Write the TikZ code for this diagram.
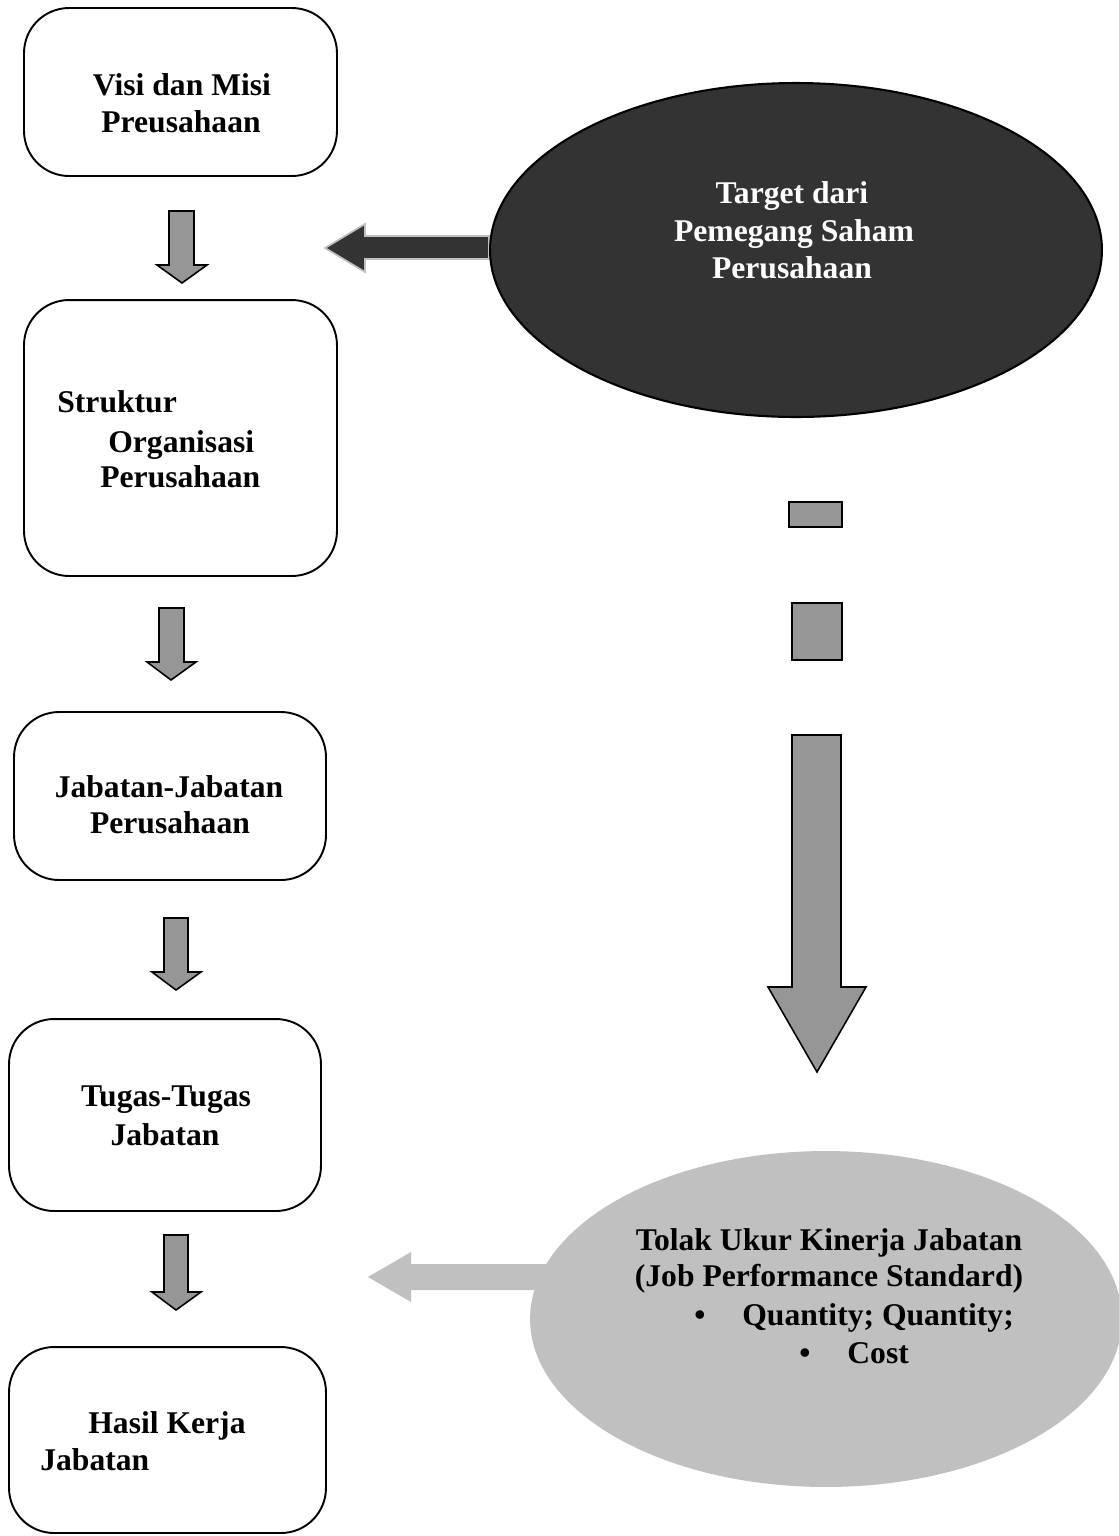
\documentclass[tikz,border=0pt]{standalone}
\usepackage{fontspec}
\setmainfont{Liberation Serif}
\usetikzlibrary{shapes.geometric}
\definecolor{midgray}{HTML}{969696}
\definecolor{lightgray}{HTML}{C0C0C0}
\definecolor{darkfill}{HTML}{333333}
\tikzset{
  box/.style={draw=black, line width=1.1pt, rounded corners=0.9cm, inner sep=0pt, minimum width=6.26cm},
  txt/.style={inner sep=0pt, anchor=base, font=\bfseries\fontsize{18}{22}\selectfont},
  txtl/.style={txt, anchor=base west},
  blockarrow/.style={draw=black, line width=0.9pt, fill=midgray, line join=miter},
  stub/.style={draw=black, line width=1.6pt, fill=midgray},
}
\begin{document}
\begin{tikzpicture}[x=0.02cm, y=-0.02cm]
\useasboundingbox (0,0) rectangle (1119,1536);

% left column of rounded boxes
\node[box, minimum height=3.36cm] (visi) at (180.5,92) {};
\node[box, minimum height=5.52cm] (struktur) at (180.5,438) {};
\node[box, minimum width=6.24cm, minimum height=3.36cm] (jabatan) at (170,796) {};
\node[box, minimum width=6.24cm, minimum height=3.84cm] (tugas) at (165,1115) {};
\node[box, minimum width=6.34cm, minimum height=3.72cm] (hasil) at (167.5,1440) {};

\node[txt] (visi1) at (182,95) {Visi dan Misi};
\node[txt] (visi2) at (181,132) {Preusahaan};
\node[txtl] (str1) at (57,412) {Struktur};
\node[txtl] (str2) at (108,452) {Organisasi};
\node[txtl] (str3) at (100,487) {Perusahaan};
\node[txt] (jab1) at (169,797) {Jabatan-Jabatan};
\node[txt] (jab2) at (170,833) {Perusahaan};
\node[txt] (tug1) at (166,1106) {Tugas-Tugas};
\node[txt] (tug2) at (165,1145) {Jabatan};
\node[txtl] (has1) at (88,1433) {Hasil Kerja};
\node[txtl] (has2) at (40,1470) {Jabatan};

% small down arrows between the boxes
\draw[blockarrow] (169,211) -- (194,211) -- (194,265) -- (207,265) -- (182,283) -- (157,265) -- (169,265) -- cycle;
\draw[blockarrow] (159,608) -- (184,608) -- (184,662) -- (196,662) -- (171,680) -- (147,662) -- (159,662) -- cycle;
\draw[blockarrow] (164,918) -- (188,918) -- (188,972) -- (201,972) -- (176,990) -- (152,972) -- (164,972) -- cycle;
\draw[blockarrow] (164,1235) -- (188,1235) -- (188,1292) -- (201,1292) -- (176,1310) -- (152,1292) -- (164,1292) -- cycle;

% shareholder target
\draw[fill=darkfill, draw=lightgray, line width=1pt, line join=miter]
  (489,236) -- (365,236) -- (365,224) -- (325,248) -- (365,272) -- (365,259) -- (489,259) -- cycle;
\node[ellipse, draw=black, line width=1.2pt, fill=darkfill, inner sep=0pt,
      minimum width=12.24cm, minimum height=6.68cm] (target) at (796,250) {};
\node[txt, text=white] (tgt1) at (792,203) {Target dari};
\node[txt, text=white] (tgt2) at (794,241) {Pemegang Saham};
\node[txt, text=white] (tgt3) at (792,278) {Perusahaan};

% right column: stubs and long arrow
\node[stub, minimum width=1.06cm, minimum height=0.5cm, inner sep=0pt] (stub1) at (815.5,514.5) {};
\node[stub, minimum width=1.0cm, minimum height=1.14cm, inner sep=0pt] (stub2) at (817,631.5) {};
\draw[blockarrow] (792,735) -- (841,735) -- (841,987) -- (866,987) -- (817,1072) -- (768,987) -- (792,987) -- cycle;

% job performance standard
\fill[lightgray] (560,1264) -- (411,1264) -- (411,1252) -- (368,1277) -- (411,1302) -- (411,1290) -- (560,1290) -- cycle;
\node[ellipse, fill=lightgray, inner sep=0pt,
      minimum width=11.84cm, minimum height=6.72cm] (standard) at (826,1319) {};
\node[txt] (std1) at (829,1250) {Tolak Ukur Kinerja Jabatan};
\node[txt] (std2) at (829,1286) {(Job Performance Standard)};
\node[txt] (std3b) at (700,1325) {\textbullet};
\node[txtl] (std3) at (742,1325) {Quantity; Quantity;};
\node[txt] (std4b) at (805,1363) {\textbullet};
\node[txtl] (std4) at (847,1363) {Cost};
\end{tikzpicture}
\end{document}
